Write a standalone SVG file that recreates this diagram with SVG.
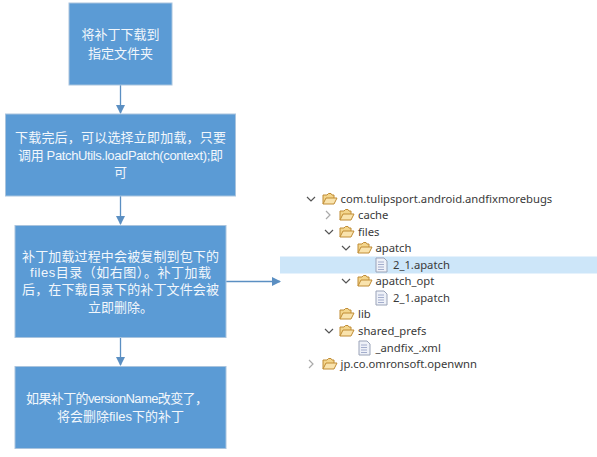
<svg xmlns="http://www.w3.org/2000/svg" width="597" height="457" viewBox="0 0 597 457">
<style>
.b{fill:#5b9bd5;stroke:#a9c4de;stroke-width:1}
.t{font-family:"Liberation Sans","Noto Sans CJK SC",sans-serif;font-size:13px;fill:#f2f7fc;text-anchor:middle}
.f{font-family:"Noto Sans","Open Sans",sans-serif;font-size:11.25px;fill:#3a3a3a}
.c{fill:none;stroke:#5b8fc2;stroke-width:1.3}
.ch{fill:none;stroke:#555;stroke-width:1.2}
.ch2{fill:none;stroke:#aaa;stroke-width:1.2}
</style>
<defs>
<marker id="a" markerWidth="9" markerHeight="9" refX="8" refY="4.5" orient="auto" markerUnits="userSpaceOnUse"><path d="M0,0L9,4.5L0,9Z" fill="#5b8fc2"/></marker>
<g id="folder"><path d="M0,5V-4H4L5.500,-5.500H8L9,-4H11V-1" fill="#f3d58c" stroke="#c08c34"/><path d="M0,5L3,-1H14L11,5Z" fill="#f9e3ad" stroke="#c08c34"/></g>
<g id="file"><path d="M-5,-7H3L6,-4V7H-5Z" fill="#eef1f8" stroke="#9aa3b8"/><path d="M-3,-3H3M-3,-0.500H3M-3,2H3M-3,4.500H3" stroke="#8f9cc0" stroke-width="0.800"/></g>
</defs>
<rect width="597" height="457" fill="#fff"/>
<rect x="280" y="256.500" width="317" height="17" fill="#cde6f9"/>
<g id="connectors">
<path class="c" d="M120.500,85V113" marker-end="url(#a)"/>
<path class="c" d="M120.500,196V224" marker-end="url(#a)"/>
<path class="c" d="M120.500,337V365" marker-end="url(#a)"/>
<path class="c" d="M226,281.500H280" marker-end="url(#a)"/>
</g>
<g id="n1"><rect class="b" x="69" y="3" width="103" height="82"/><text class="t" x="120.500" y="39">将补丁下载到</text><text class="t" x="120.500" y="58">指定文件夹</text></g>
<g id="n2"><rect class="b" x="5.500" y="114" width="230" height="82"/><text class="t" x="120.500" y="142" textLength="211">下载完后，可以选择立即加载，只要</text><text class="t" x="120.500" y="160" textLength="205">调用 PatchUtils.loadPatch(context);即</text><text class="t" x="120.500" y="177">可</text></g>
<g id="n3"><rect class="b" x="15" y="225.500" width="211" height="112"/><text class="t" x="120.500" y="261" textLength="197">补丁加载过程中会被复制到包下的</text><text class="t" x="120.500" y="277" textLength="181">files目录（如右图）。补丁加载</text><text class="t" x="120.500" y="294" textLength="197">后，在下载目录下的补丁文件会被</text><text class="t" x="120.500" y="312">立即删除。</text></g>
<g id="n4"><rect class="b" x="15" y="366.500" width="211" height="82"/><text class="t" x="117" y="403" textLength="182">如果补丁的versionName改变了，</text><text class="t" x="120.500" y="421" textLength="127">将会删除files下的补丁</text></g>
<g id="tree">
<path class="ch" d="M307,197L311,201L315,197"/><use href="#folder" x="323" y="199"/><text class="f" x="340.500" y="203">com.tulipsport.android.andfixmorebugs</text>
<path class="ch2" d="M326,211L330,215L326,219"/><use href="#folder" x="340" y="215"/><text class="f" x="358" y="219">cache</text>
<path class="ch" d="M325,230L329,234L333,230"/><use href="#folder" x="340" y="232"/><text class="f" x="358" y="236">files</text>
<path class="ch" d="M342,246L346,250L350,246"/><use href="#folder" x="358" y="248"/><text class="f" x="375.500" y="252">apatch</text>
<use href="#file" x="381" y="265"/><text class="f" x="393" y="269">2_1.apatch</text>
<path class="ch" d="M342,279L346,283L350,279"/><use href="#folder" x="358" y="281"/><text class="f" x="375.500" y="285">apatch_opt</text>
<use href="#file" x="381" y="298"/><text class="f" x="393" y="302">2_1.apatch</text>
<use href="#folder" x="340" y="314"/><text class="f" x="358" y="318">lib</text>
<path class="ch" d="M325,329L329,333L333,329"/><use href="#folder" x="340" y="331"/><text class="f" x="358" y="335">shared_prefs</text>
<use href="#file" x="364" y="348"/><text class="f" x="375.500" y="352">_andfix_.xml</text>
<path class="ch2" d="M309,360L313,364L309,368"/><use href="#folder" x="323" y="364"/><text class="f" x="340.500" y="368">jp.co.omronsoft.openwnn</text>
</g>
</svg>
